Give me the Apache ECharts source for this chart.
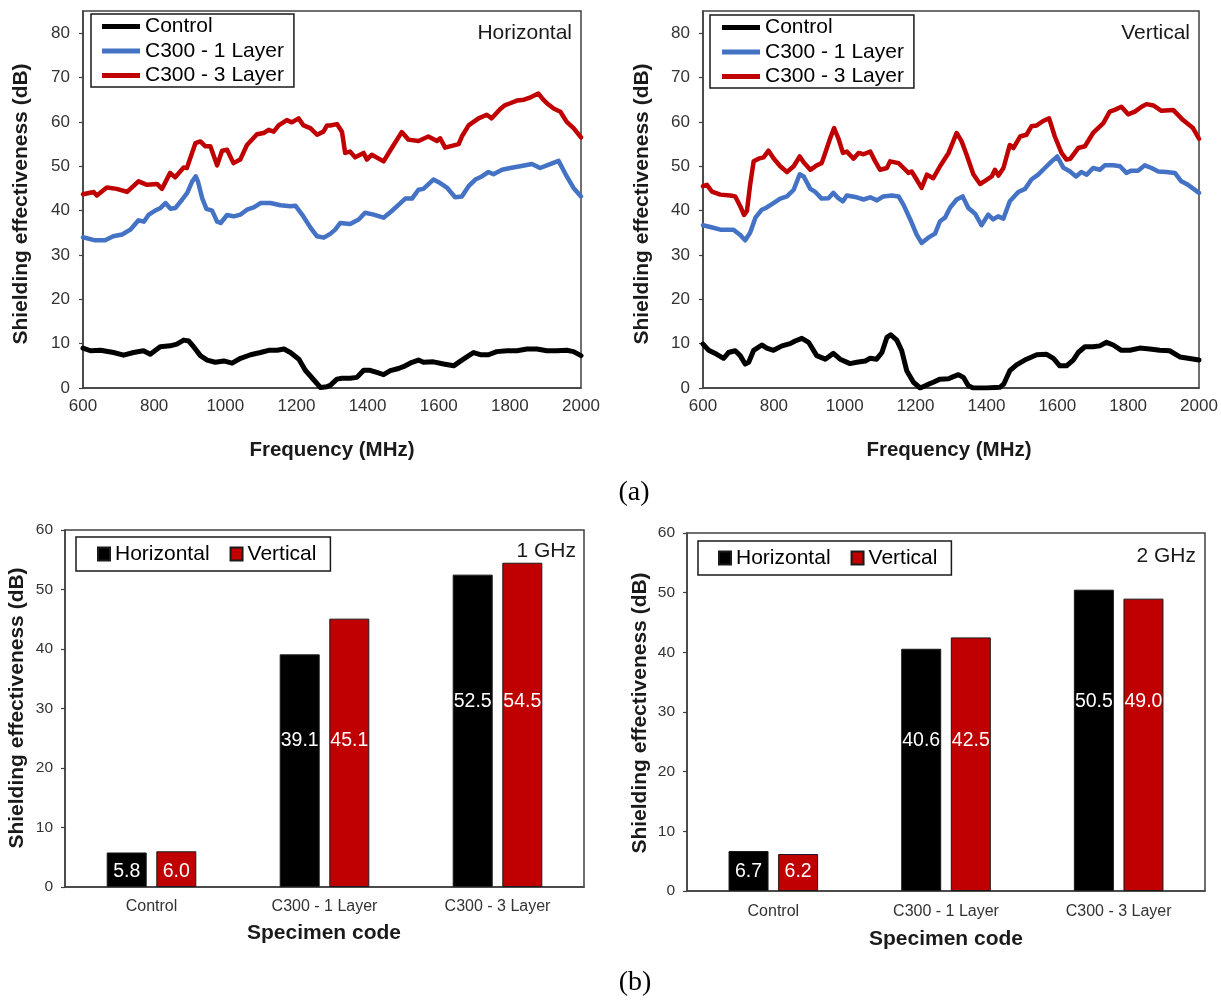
<!DOCTYPE html>
<html><head><meta charset="utf-8">
<script src="https://cdn.jsdelivr.net/npm/echarts@6/dist/echarts.min.js"></script>
<style>html,body{margin:0;padding:0;background:#fff}#c{width:1221px;height:1000px}</style>
</head><body><div id="c"></div><script>
// ---------- DATA ----------
const lineNames = ['Control', 'C300 - 1 Layer', 'C300 - 3 Layer'];
const barNames = ['Horizontal', 'Vertical'];
const categories = ['Control', 'C300 - 1 Layer', 'C300 - 3 Layer'];

// Horizontal polarization: [frequency MHz, SE dB]
const hControl = [[600,9.0],[621,8.4],[649,8.5],[686,8.0],[714,7.4],[742,8.0],[770,8.4],[789,7.6],[817,9.3],[845,9.5],[864,9.9],[883,10.8],[897,10.6],[911,9.3],[930,7.3],[949,6.3],[972,5.8],[996,6.1],[1019,5.6],[1043,6.7],[1071,7.5],[1099,8.0],[1122,8.5],[1146,8.5],[1165,8.8],[1183,8.0],[1207,6.5],[1225,4.0],[1249,1.8],[1268,0.1],[1286,0.3],[1295,0.6],[1314,2.0],[1328,2.2],[1351,2.2],[1370,2.4],[1389,4.0],[1407,4.0],[1426,3.5],[1445,3.0],[1464,3.9],[1487,4.4],[1506,5.0],[1525,5.8],[1543,6.3],[1557,5.8],[1585,5.9],[1614,5.4],[1642,5.0],[1660,6.0],[1679,7.0],[1698,8.0],[1717,7.5],[1740,7.5],[1763,8.2],[1792,8.4],[1820,8.4],[1848,8.8],[1876,8.8],[1904,8.4],[1932,8.4],[1960,8.5],[1979,8.2],[2000,7.3]];
const hLayer1 = [[600,34.0],[634,33.3],[662,33.3],[685,34.2],[710,34.6],[733,35.7],[756,37.8],[771,37.5],[785,39.1],[803,40.0],[818,40.6],[832,41.7],[846,40.4],[860,40.6],[879,42.5],[893,44.0],[907,46.6],[917,47.7],[923,46.6],[935,42.8],[947,40.4],[963,40.0],[977,37.5],[987,37.2],[1005,39.0],[1024,38.7],[1043,39.1],[1061,40.2],[1080,40.7],[1099,41.7],[1127,41.7],[1155,41.2],[1183,41.0],[1197,41.1],[1216,39.1],[1240,36.1],[1258,34.2],[1277,33.9],[1296,34.8],[1309,35.7],[1323,37.2],[1351,37.0],[1375,38.0],[1393,39.5],[1417,39.1],[1445,38.4],[1468,39.9],[1487,41.3],[1506,42.7],[1525,42.7],[1543,44.7],[1557,44.9],[1585,47.0],[1604,46.2],[1623,45.2],[1646,43.0],[1665,43.2],[1684,45.5],[1703,47.0],[1721,47.7],[1740,48.7],[1754,48.2],[1778,49.2],[1801,49.6],[1829,50.0],[1862,50.5],[1885,49.6],[1904,50.2],[1937,51.2],[1960,47.7],[1979,45.1],[2000,43.2]];
const hLayer3 = [[600,43.7],[630,44.2],[639,43.4],[667,45.2],[695,44.9],[724,44.2],[756,46.6],[780,45.8],[808,46.0],[822,44.9],[845,48.5],[859,47.5],[883,49.7],[892,49.6],[916,55.2],[930,55.6],[944,54.5],[958,54.5],[977,50.2],[991,53.5],[1005,53.7],[1023,50.7],[1042,51.5],[1061,54.8],[1089,57.2],[1108,57.5],[1122,58.2],[1136,57.8],[1150,59.2],[1173,60.4],[1187,59.9],[1206,60.8],[1220,59.2],[1239,58.6],[1258,57.1],[1276,57.8],[1286,59.2],[1295,59.2],[1314,59.5],[1328,57.8],[1337,53.0],[1351,53.3],[1365,52.0],[1389,53.0],[1398,51.5],[1412,52.6],[1445,51.1],[1468,54.1],[1496,57.7],[1515,56.0],[1543,55.7],[1571,56.7],[1595,55.7],[1604,56.3],[1618,54.2],[1656,55.0],[1665,56.7],[1684,59.2],[1712,60.8],[1735,61.6],[1749,60.8],[1773,62.9],[1787,63.8],[1801,64.2],[1820,64.8],[1840,65.0],[1860,65.6],[1880,66.4],[1892,65.2],[1904,64.2],[1923,63.0],[1942,62.3],[1960,60.0],[1979,58.6],[2000,56.5]];

// Vertical polarization
const vControl = [[600,9.9],[616,8.5],[639,7.6],[658,6.7],[672,8.0],[691,8.4],[705,7.3],[719,5.4],[729,5.8],[743,8.5],[766,9.7],[780,9.0],[799,8.5],[823,9.5],[846,10.0],[860,10.6],[879,11.2],[898,10.3],[921,7.3],[945,6.5],[968,7.8],[987,6.5],[1015,5.5],[1034,5.8],[1058,6.1],[1072,6.7],[1090,6.5],[1105,8.0],[1119,11.4],[1130,12.0],[1147,10.8],[1161,8.4],[1175,3.9],[1194,1.3],[1213,0.0],[1232,0.7],[1250,1.3],[1269,2.0],[1293,2.1],[1305,2.5],[1321,3.0],[1335,2.4],[1349,0.5],[1363,0.0],[1400,0.0],[1438,0.15],[1449,0.9],[1466,3.9],[1485,5.2],[1513,6.5],[1542,7.5],[1570,7.6],[1589,6.7],[1607,5.0],[1626,5.0],[1645,6.3],[1659,8.0],[1678,9.3],[1701,9.3],[1720,9.5],[1739,10.3],[1758,9.7],[1781,8.5],[1805,8.5],[1833,9.0],[1861,8.8],[1889,8.5],[1917,8.4],[1946,7.0],[1969,6.7],[2000,6.3]];
const vLayer1 = [[600,36.7],[621,36.3],[649,35.7],[686,35.7],[705,34.5],[719,33.3],[733,35.0],[748,38.4],[766,40.2],[780,40.7],[799,41.7],[818,42.7],[837,43.2],[856,44.7],[873,48.2],[884,47.7],[903,44.9],[917,44.2],[935,42.7],[954,42.8],[968,44.0],[982,42.8],[995,42.1],[1006,43.4],[1034,43.0],[1053,42.5],[1072,43.0],[1091,42.3],[1109,43.2],[1133,43.4],[1152,43.2],[1166,41.3],[1185,38.0],[1203,34.6],[1217,32.7],[1236,33.9],[1255,34.8],[1269,37.6],[1283,38.4],[1297,40.6],[1316,42.5],[1333,43.2],[1349,40.6],[1368,39.3],[1386,36.7],[1405,39.1],[1419,38.0],[1433,38.7],[1448,38.2],[1466,42.1],[1490,44.2],[1509,44.9],[1527,47.0],[1546,48.1],[1565,49.6],[1584,51.1],[1600,52.2],[1617,49.7],[1636,48.8],[1653,47.7],[1668,48.7],[1683,48.1],[1701,49.6],[1720,49.2],[1734,50.2],[1758,50.2],[1777,50.0],[1795,48.5],[1809,49.0],[1828,49.0],[1847,50.2],[1866,49.6],[1885,48.8],[1908,48.7],[1932,48.5],[1950,46.6],[1969,45.8],[2000,44.0]];
const vLayer3 = [[600,45.5],[611,45.8],[625,44.3],[649,43.6],[677,43.4],[691,43.2],[705,41.0],[716,39.0],[724,39.9],[733,45.8],[743,51.1],[757,51.7],[771,52.0],[785,53.5],[799,51.8],[818,50.0],[837,48.7],[856,50.0],[873,52.2],[884,50.9],[903,49.2],[921,50.2],[935,50.7],[945,53.0],[959,56.3],[970,58.6],[982,56.3],[995,53.0],[1006,53.3],[1025,51.7],[1039,53.0],[1053,52.7],[1072,53.3],[1086,51.1],[1100,49.2],[1119,49.6],[1128,51.1],[1152,50.7],[1166,49.6],[1180,48.5],[1189,48.8],[1203,47.0],[1217,45.1],[1232,48.1],[1250,47.3],[1269,50.0],[1293,53.0],[1316,57.5],[1330,55.6],[1344,52.6],[1363,48.2],[1382,46.0],[1396,46.7],[1415,47.7],[1424,49.2],[1434,47.9],[1448,49.6],[1466,54.8],[1476,54.1],[1495,56.7],[1513,57.1],[1527,59.0],[1542,59.2],[1560,60.2],[1577,60.8],[1593,56.7],[1612,53.0],[1626,51.5],[1637,51.7],[1659,54.1],[1678,54.5],[1701,57.5],[1730,59.7],[1748,62.3],[1762,62.7],[1781,63.4],[1800,61.7],[1819,62.3],[1838,63.4],[1852,64.0],[1871,63.7],[1894,62.5],[1927,62.7],[1955,60.4],[1983,58.6],[2000,56.2]];

// Bar values (dB)
const h1GHz = [5.8, 39.1, 52.5];
const v1GHz = [6.0, 45.1, 54.5];
const h2GHz = [6.7, 40.6, 50.5];
const v2GHz = [6.2, 42.5, 49.0];

// ---------- LAYOUT / STYLE ----------
const FONT = '"Liberation Sans", Arial, Helvetica, sans-serif';
const SERIF = '"Liberation Serif", "Times New Roman", serif';
const AX = '#404040';
const LABEL = '#333333';
const lineColors = ['#000000', '#4472C4', '#C00000'];
const lineWidths = [5, 4.5, 4.5];
const barColors = ['#000000', '#C00000'];
const grids = [
  {left: 83, top: 11, width: 498, height: 377},
  {left: 703, top: 11, width: 496, height: 377},
  {left: 65, top: 530, width: 519, height: 357},
  {left: 687, top: 533, width: 518, height: 358}
];
const labelCenterY = [872, 741, 702]; // pixel rows of value labels per category

const chart = echarts.init(document.getElementById('c'), null, {renderer: 'canvas'});

function valueX(gi) {
  return {gridIndex: gi, type: 'value', min: 600, max: 2000, interval: 200,
    axisLine: {show: true, onZero: false, lineStyle: {color: AX, width: 1.5}},
    axisTick: {show: false},
    axisLabel: {fontSize: 17, color: LABEL, margin: 10, fontFamily: FONT, formatter: v => String(v)},
    splitLine: {show: false}};
}
function valueY(gi, max, showMax) {
  return {gridIndex: gi, type: 'value', min: 0, max: max, interval: 10,
    axisLine: {show: true, onZero: false, lineStyle: {color: AX, width: 1.5}},
    axisTick: {show: true, inside: false, length: 4, lineStyle: {color: AX, width: 1.2}},
    axisLabel: {fontSize: gi < 2 ? 17 : 15.5, color: LABEL, margin: gi < 2 ? 13 : 12, fontFamily: FONT, showMaxLabel: showMax, formatter: v => String(v)},
    splitLine: {show: false}};
}
function catX(gi) {
  return {gridIndex: gi, type: 'category', data: categories,
    axisLine: {show: true, onZero: false, lineStyle: {color: AX, width: 1.5}},
    axisTick: {show: false},
    axisLabel: {fontSize: 16, color: LABEL, margin: gi === 2 ? 12 : 13, fontFamily: FONT},
    splitLine: {show: false}};
}
function lineSeries(k, data, gi) {
  return {type: 'line', name: lineNames[k], xAxisIndex: gi, yAxisIndex: gi, data: data,
    symbol: 'none', smooth: false, lineStyle: {width: lineWidths[k], color: lineColors[k], join: 'round', cap: 'round'},
    itemStyle: {color: lineColors[k]}, animation: false};
}
function barSeries(k, values, gi) {
  const g = grids[gi];
  const ppu = g.height / 60;
  return {type: 'bar', name: barNames[k], xAxisIndex: gi, yAxisIndex: gi,
    barWidth: 40, barGap: '24%',
    itemStyle: {color: barColors[k], borderColor: '#1a1a1a', borderWidth: 1},
    data: values.map((v, i) => {
      const top = g.top + g.height - v * ppu;
      return {value: v, label: {position: ['50%', labelCenterY[i] - top]}};
    }),
    label: {show: true, color: '#ffffff', fontSize: 19.5, fontFamily: FONT,
      align: 'center', verticalAlign: 'middle',
      formatter: p => Number(p.value).toFixed(1)},
    animation: false};
}
function txt(text, x, y, opts) {
  opts = opts || {};
  return {type: 'text', x: x, y: y, rotation: opts.rot || 0, z: 100,
    style: {text: text, fill: opts.color || '#1a1a1a',
      font: (opts.bold ? 'bold ' : '') + (opts.size || 21) + 'px ' + (opts.family || FONT),
      align: opts.align || 'center', verticalAlign: 'middle',
      textAlign: opts.align || 'center', textVerticalAlign: 'middle'}};
}
const legendBase = {selectedMode: false, icon: 'rect', borderColor: '#1a1a1a', borderWidth: 1.5,
  backgroundColor: '#ffffff', textStyle: {fontSize: 21, color: '#000', fontFamily: FONT}};

const option = {
  animation: false,
  backgroundColor: '#ffffff',
  textStyle: {fontFamily: FONT},
  grid: grids.map(g => Object.assign({show: true, borderColor: AX, borderWidth: 1.5, backgroundColor: 'transparent', containLabel: false}, g)),
  xAxis: [valueX(0), valueX(1), catX(2), catX(3)],
  yAxis: [valueY(0, 85, false), valueY(1, 85, false), valueY(2, 60, true), valueY(3, 60, true)],
  legend: [
    Object.assign({}, legendBase, {data: lineNames, orient: 'vertical', left: 91, top: 14,
      itemWidth: 38, itemHeight: 5, itemGap: 3.5, padding: [2, 10, 1, 11],
      itemStyle: {borderWidth: 0},
      textStyle: Object.assign({}, legendBase.textStyle, {lineHeight: 21})}),
    Object.assign({}, legendBase, {data: lineNames, orient: 'vertical', left: 710, top: 15,
      itemWidth: 38, itemHeight: 5, itemGap: 3.5, padding: [2, 10, 1, 12],
      itemStyle: {borderWidth: 0},
      textStyle: Object.assign({}, legendBase.textStyle, {lineHeight: 21})}),
    Object.assign({}, legendBase, {data: barNames, orient: 'horizontal', left: 76, top: 537,
      itemWidth: 12, itemHeight: 13, itemGap: 20, padding: [6, 14, 6, 21],
      textStyle: Object.assign({}, legendBase.textStyle, {lineHeight: 22})}),
    Object.assign({}, legendBase, {data: barNames, orient: 'horizontal', left: 698, top: 541,
      itemWidth: 12, itemHeight: 13, itemGap: 20, padding: [6, 14, 6, 20],
      textStyle: Object.assign({}, legendBase.textStyle, {lineHeight: 22})})
  ],
  series: [
    lineSeries(0, hControl, 0),
    lineSeries(1, hLayer1, 0),
    lineSeries(2, hLayer3, 0),
    lineSeries(0, vControl, 1),
    lineSeries(1, vLayer1, 1),
    lineSeries(2, vLayer3, 1),
    barSeries(0, h1GHz, 2),
    barSeries(1, v1GHz, 2),
    barSeries(0, h2GHz, 3),
    barSeries(1, v2GHz, 3)
  ],
  graphic: [
    txt('Horizontal', 572, 33, {align: 'right', size: 21}),
    txt('Vertical', 1190, 33, {align: 'right', size: 21}),
    txt('1 GHz', 576, 551, {align: 'right', size: 21}),
    txt('2 GHz', 1196, 556, {align: 'right', size: 21}),
    txt('Frequency (MHz)', 332, 450, {bold: true, size: 20.5}),
    txt('Frequency (MHz)', 949, 450, {bold: true, size: 20.5}),
    txt('Shielding effectiveness (dB)', 21, 204, {bold: true, size: 21, rot: Math.PI / 2}),
    txt('Shielding effectiveness (dB)', 642, 204, {bold: true, size: 21, rot: Math.PI / 2}),
    txt('Specimen code', 324, 933, {bold: true, size: 21}),
    txt('Specimen code', 946, 939, {bold: true, size: 21}),
    txt('Shielding effectiveness (dB)', 17, 708, {bold: true, size: 21, rot: Math.PI / 2}),
    txt('Shielding effectiveness (dB)', 640, 713, {bold: true, size: 21, rot: Math.PI / 2}),
    txt('(a)', 634, 493, {size: 28, family: SERIF, color: '#000'}),
    txt('(b)', 635, 983, {size: 28, family: SERIF, color: '#000'})
  ]
};
chart.setOption(option);
</script></body></html>
